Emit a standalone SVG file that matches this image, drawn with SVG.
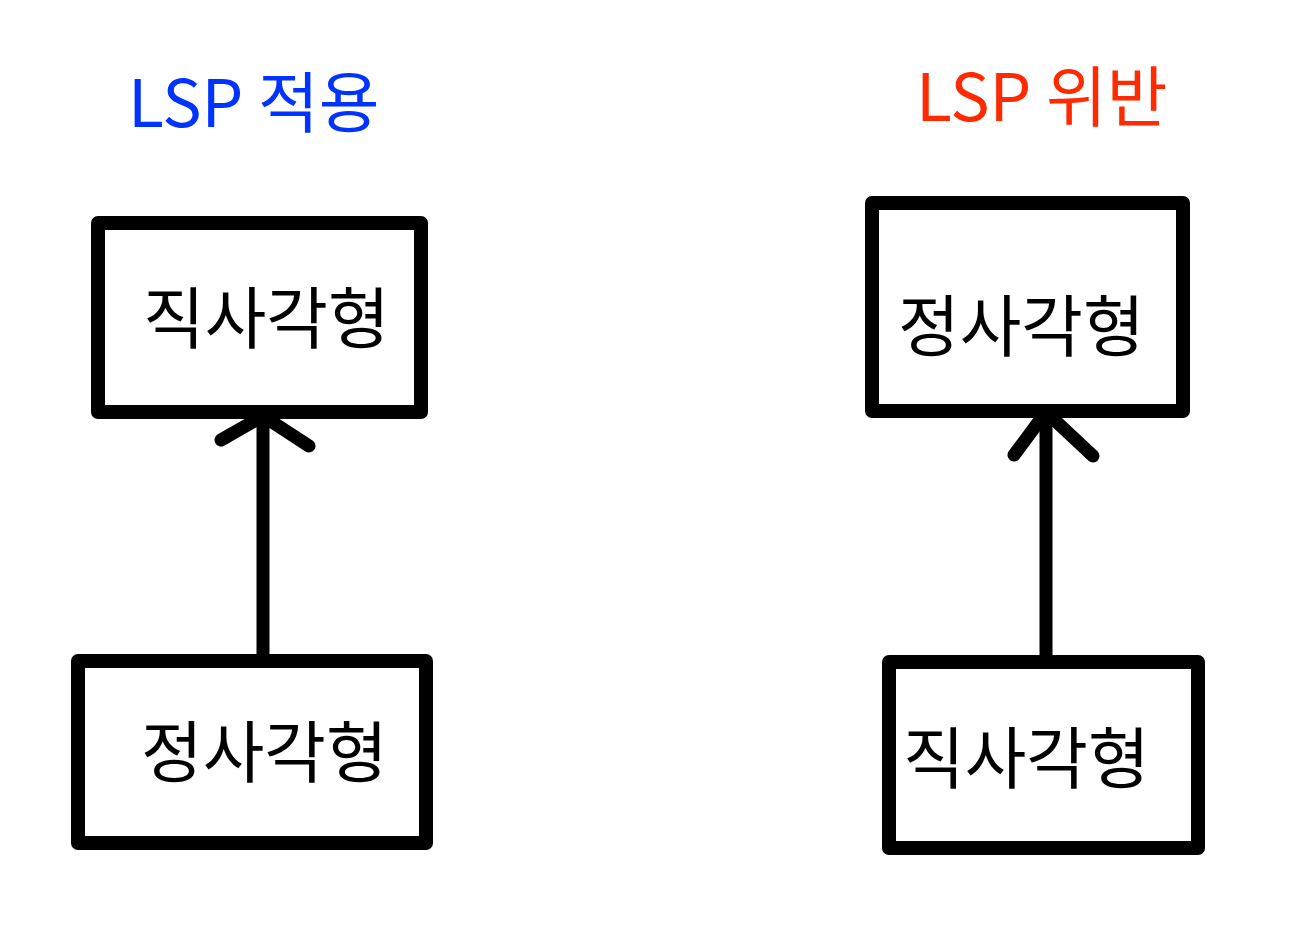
<svg xmlns="http://www.w3.org/2000/svg" width="1316" height="948" viewBox="0 0 1316 948">
<style>
.box{fill:#fff;stroke:#000;stroke-width:14;stroke-linejoin:round;}
.lbl{font-family:"Noto Sans CJK KR","Noto Sans",sans-serif;font-size:67px;fill:#000;}
.ttl{font-family:"Noto Sans CJK KR","Noto Sans",sans-serif;font-size:66px;}
.con{fill:none;stroke:#000;stroke-width:13;stroke-linecap:round;stroke-linejoin:round;}
</style>
<rect width="1316" height="948" fill="#fff"/>
<text class="ttl" x="128" y="127" fill="#0033ff">LSP 적용</text>
<text class="ttl" x="916" y="121" fill="#ff2a00">LSP 위반</text>
<g id="connectors">
<path class="con" d="M263,655 L263,416"/>
<path class="con" d="M221,440 L263,416 L309,446"/>
<path class="con" d="M1046,658 L1046,412"/>
<path class="con" d="M1014,455 L1046,412 L1093,456"/>
</g>
<g id="left-top">
<rect class="box" x="98" y="223" width="323" height="189"/>
<text class="lbl" x="143" y="343">직사각형</text>
</g>
<g id="left-bottom">
<rect class="box" x="78" y="661" width="348" height="182"/>
<text class="lbl" x="141" y="777">정사각형</text>
</g>
<g id="right-top">
<rect class="box" x="872" y="203" width="311" height="208"/>
<text class="lbl" x="898" y="351">정사각형</text>
</g>
<g id="right-bottom">
<rect class="box" x="889" y="662" width="309" height="186"/>
<text class="lbl" x="903" y="783">직사각형</text>
</g>
</svg>
